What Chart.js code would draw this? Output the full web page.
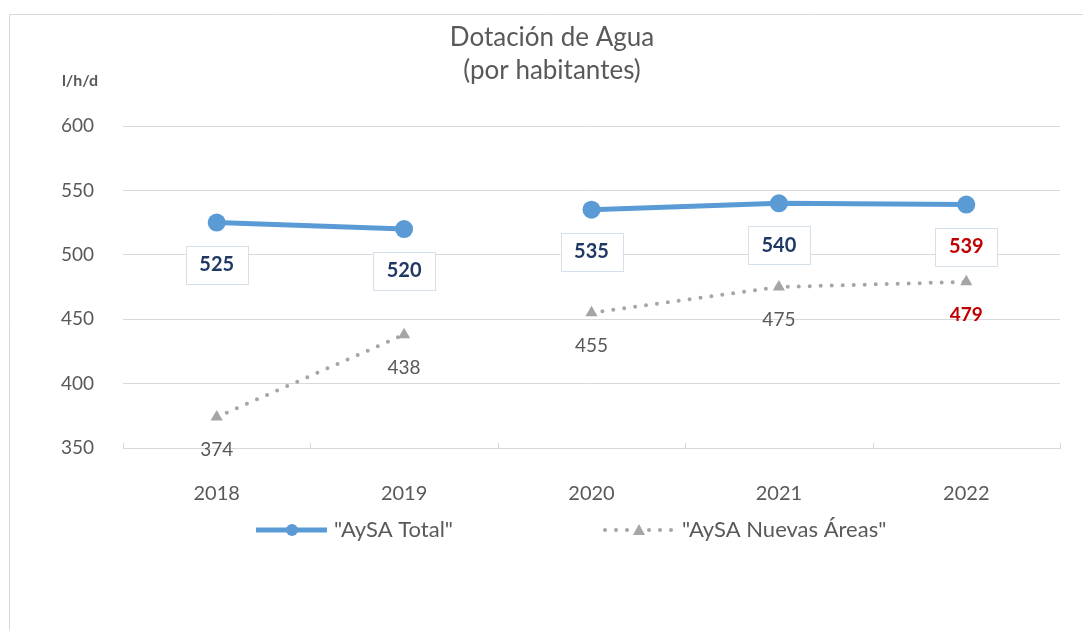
<!DOCTYPE html>
<html>
<head>
<meta charset="utf-8">
<script src="https://cdn.jsdelivr.net/npm/chart.js@4/dist/chart.umd.min.js"></script>
<style>
  html, body { margin: 0; padding: 0; background: #fff; }
  #wrap { width: 1083px; height: 630px; position: relative; }
</style>
</head>
<body>
<div id="wrap"><canvas id="myChart" width="1083" height="630"></canvas></div>
<script>
const years = ['2018', '2019', '2020', '2021', '2022']
const aysaTotal = [525, 520, 535, 540, 539]
const aysaNuevas = [374, 438, 455, 475, 479]
const yTicks = [350, 400, 450, 500, 550, 600]
// the reference leaves the 2019 -> 2020 segment undrawn on both series
const gapAfter = 1

const FONT = 'Lato, "Open Sans", sans-serif'
const GREY = '#595959'
const GRID = '#d9d9d9'
const BLUE = '#5b9bd5'
const DOT_GREY = '#a5a5a5'
const NAVY = '#1f3864'
const RED = '#c00000'

const extras = {
    id: 'extras',
    beforeDraw(chart) {
        const c = chart.ctx
        c.save()
        c.strokeStyle = GRID
        c.lineWidth = 1
        c.beginPath()
        c.moveTo(9.5, 640)
        c.lineTo(9.5, 14.5)
        c.lineTo(1090, 14.5)
        c.stroke()

        // title
        c.fillStyle = GREY
        c.textAlign = 'center'
        c.textBaseline = 'middle'
        c.font = '26px ' + FONT
        c.fillText('Dotación de Agua', 552, 38)
        c.fillText('(por habitantes)', 552, 71)

        c.font = 'bold 16px ' + FONT
        c.fillText('l/h/d', 80, 81)
        c.restore()
    },
    afterDraw(chart) {
        const c = chart.ctx
        const area = chart.chartArea
        c.save()
        // small inside ticks on the category axis
        c.strokeStyle = GRID
        c.lineWidth = 1
        const step = (area.right - area.left) / years.length
        for (let i = 0; i <= years.length; i++) {
            const x = Math.round(area.left + i * step) + 0.5
            c.beginPath()
            c.moveTo(x, area.bottom - 5)
            c.lineTo(x, area.bottom)
            c.stroke()
        }

        // legend
        const ly = 530
        c.strokeStyle = BLUE
        c.lineWidth = 5
        c.beginPath()
        c.moveTo(256, ly)
        c.lineTo(327, ly)
        c.stroke()
        c.fillStyle = BLUE
        c.beginPath()
        c.arc(292, ly, 6, 0, Math.PI * 2)
        c.fill()

        c.fillStyle = DOT_GREY
        for (let x = 605; x <= 672; x += 11) {
            if (Math.abs(x - 638) < 6) continue
            c.beginPath()
            c.arc(x, ly, 2, 0, Math.PI * 2)
            c.fill()
        }
        c.beginPath()
        c.moveTo(639, ly - 6)
        c.lineTo(645, ly + 5)
        c.lineTo(633, ly + 5)
        c.closePath()
        c.fill()

        c.fillStyle = GREY
        c.font = '22px ' + FONT
        c.textAlign = 'left'
        c.textBaseline = 'middle'
        c.fillText('"AySA Total"', 334, ly)
        c.fillText('"AySA Nuevas Áreas"', 682, ly)
        c.restore()
    },
    afterDatasetsDraw(chart) {
        const c = chart.ctx
        c.save()
        c.textAlign = 'center'
        c.textBaseline = 'middle'

        chart.getDatasetMeta(0).data.forEach((pt, i) => {
            const x = pt.x, y = pt.y + 42
            c.fillStyle = '#fff'
            c.fillRect(x - 31, y - 19, 62, 38)
            c.strokeStyle = '#d5e0ea'
            c.lineWidth = 1
            c.strokeRect(Math.round(x - 31) + 0.5, Math.round(y - 19) + 0.5, 62, 38)
            c.font = 'bold 20px ' + FONT
            c.fillStyle = i === years.length - 1 ? RED : NAVY
            c.fillText(aysaTotal[i], x, y)
        })

        chart.getDatasetMeta(1).data.forEach((pt, i) => {
            const last = i === years.length - 1
            c.font = (last ? 'bold ' : '') + '19px ' + FONT
            c.fillStyle = last ? RED : GREY
            c.fillText(aysaNuevas[i], pt.x, pt.y + 33)
        })
        c.restore()
    }
}

const hideGap = ctx => ctx.p0DataIndex === gapAfter ? 'rgba(0,0,0,0)' : undefined

new Chart(document.getElementById('myChart'), {
    type: 'line',
    data: {
        labels: years,
        datasets: [{
            label: '"AySA Total"',
            data: aysaTotal,
            borderColor: BLUE,
            backgroundColor: BLUE,
            borderWidth: 5,
            pointRadius: 9,
            pointBorderWidth: 0,
            pointBackgroundColor: BLUE,
            segment: { borderColor: hideGap },
            tension: 0
        }, {
            label: '"AySA Nuevas Áreas"',
            data: aysaNuevas,
            borderColor: DOT_GREY,
            backgroundColor: DOT_GREY,
            borderWidth: 4,
            borderDash: [0, 11],
            borderCapStyle: 'round',
            pointStyle: 'triangle',
            pointRadius: 7,
            pointBorderWidth: 0,
            pointBackgroundColor: DOT_GREY,
            segment: { borderColor: hideGap },
            tension: 0
        }]
    },
    options: {
        responsive: false,
        animation: false,
        layout: { padding: { top: 126, right: 23, bottom: 0, left: 0 } },
        plugins: {
            legend: { display: false },
            title: { display: false },
            tooltip: { enabled: false }
        },
        scales: {
            x: {
                offset: true,
                grid: { display: false },
                border: { display: true, color: GRID, width: 1 },
                ticks: { color: GREY, font: { family: FONT, size: 20 }, padding: 26 },
                afterFit(scale) { scale.height = 182 }
            },
            y: {
                min: yTicks[0],
                max: yTicks[yTicks.length - 1],
                afterBuildTicks(scale) { scale.ticks = yTicks.map(v => ({ value: v })) },
                grid: { color: GRID, drawTicks: false },
                border: { display: false },
                ticks: { color: GREY, font: { family: FONT, size: 19 }, padding: 29 },
                afterFit(scale) { scale.width = 123 }
            }
        }
    },
    plugins: [extras]
})
</script>
</body>
</html>
